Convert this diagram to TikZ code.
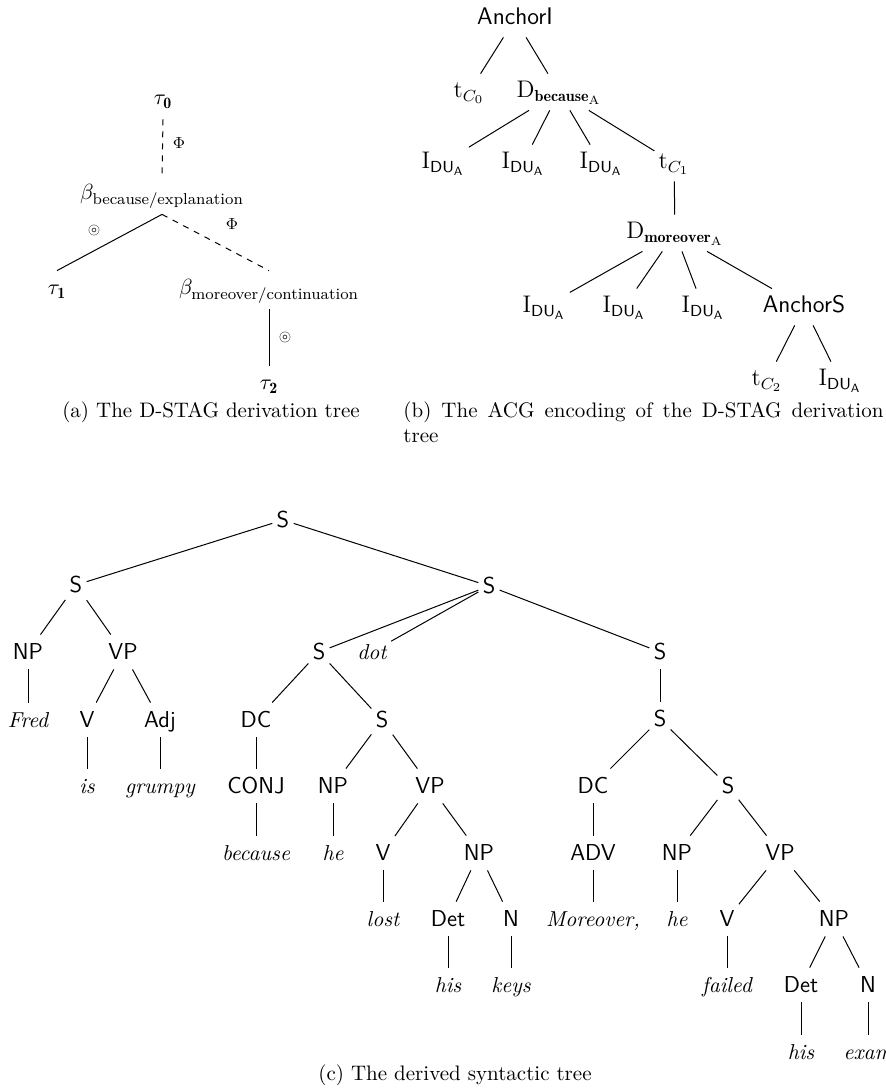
\documentclass[tikz,border=0pt]{standalone}
\usepackage{fontspec}
\usepackage{amsmath}
\usepackage{amssymb}
\usetikzlibrary{positioning}
\tikzset{
    dstagNode/.style={
        font=\fontsize{11.3}{13}\selectfont, inner sep=3pt, text height=9pt, text depth=4pt
    },
    acgNode/.style={
        font=\fontsize{12}{14}\selectfont, inner sep=2pt, text height=10pt, text depth=4pt
    },
    synNode/.style={
        font=\fontsize{11.5}{14}\selectfont\sffamily, inner sep=2pt, text height=10pt, text depth=3pt
    },
    synWord/.style={
        synNode, font=\fontsize{10.8}{13}\selectfont\rmfamily\itshape
    },
    opMark/.style={
        font=\footnotesize, inner sep=0pt
    },
    subCaption/.style={
        font=\fontsize{10.5}{12.5}\selectfont\rmfamily, inner sep=0pt
    },
    treeEdge/.style={
        line width=0.5pt, draw=black
    },
    treeDashedEdge/.style={
        treeEdge, dashed
    }
}
\begin{document}
\begin{tikzpicture}[x=0.5pt, y=-0.5pt]
    \useasboundingbox (0,0) rectangle (886,1090);

    % ── (a) D-STAG DERIVATION TREE
    \node[dstagNode] (tauZero) at (163,100) {$\tau_{\mathbf{0}}$};
    \node[dstagNode] (betaBecause) at (162,195) {$\beta_{\text{because/explanation}}$};
    \node[dstagNode] (tauOne) at (57,290) {$\tau_{\mathbf{1}}$};
    \node[dstagNode] (betaMoreover) at (269,290) {$\beta_{\text{moreover/continuation}}$};
    \node[dstagNode] (tauTwo) at (269,385) {$\tau_{\mathbf{2}}$};

    \draw[treeDashedEdge] (tauZero.south) -- (betaBecause.north);
    \draw[treeEdge] (betaBecause.south) -- (tauOne.north);
    \draw[treeDashedEdge] (betaBecause.south) -- (betaMoreover.north);
    \draw[treeEdge] (betaMoreover.south) -- (tauTwo.north);

    \node[opMark] (adjTop) at (179,143) {$\Phi$};
    \node[opMark] (substLeft) at (94,231) {$\circledcirc$};
    \node[opMark] (adjRight) at (232,224) {$\Phi$};
    \node[opMark] (substLow) at (285,338) {$\circledcirc$};

    \node[subCaption, anchor=base] (capA) at (211,417) {(a) The D-STAG derivation tree};

    % ── (b) ACG ENCODING
    \node[acgNode, font=\fontsize{12}{14}\selectfont\sffamily] (anchorI) at (515,19) {AnchorI};
    \node[acgNode] (tcZero) at (469,92) {$\mathrm{t}_{C_0}$};
    \node[acgNode] (dBecause) at (559,92) {$\mathrm{D}_{\mathbf{because}_{\mathrm{A}}}$};
    \node[acgNode] (iDuOne) at (443,163) {$\mathrm{I}_{\mathsf{DU_A}}$};
    \node[acgNode] (iDuTwo) at (523,163) {$\mathrm{I}_{\mathsf{DU_A}}$};
    \node[acgNode] (iDuThree) at (601,163) {$\mathrm{I}_{\mathsf{DU_A}}$};
    \node[acgNode] (tcOne) at (674,163) {$\mathrm{t}_{C_1}$};
    \node[acgNode] (dMoreover) at (675,233) {$\mathrm{D}_{\mathbf{moreover}_{\mathrm{A}}}$};
    \node[acgNode] (iDuFour) at (544,307) {$\mathrm{I}_{\mathsf{DU_A}}$};
    \node[acgNode] (iDuFive) at (624,307) {$\mathrm{I}_{\mathsf{DU_A}}$};
    \node[acgNode] (iDuSix) at (703,307) {$\mathrm{I}_{\mathsf{DU_A}}$};
    \node[acgNode, font=\fontsize{12}{14}\selectfont\sffamily] (anchorS) at (804,307) {AnchorS};
    \node[acgNode] (tcTwo) at (767,380) {$\mathrm{t}_{C_2}$};
    \node[acgNode] (iDuSeven) at (840,380) {$\mathrm{I}_{\mathsf{DU_A}}$};

    \draw[treeEdge] (anchorI) -- (tcZero) (anchorI) -- (dBecause);
    \draw[treeEdge] (dBecause) -- (iDuOne) (dBecause) -- (iDuTwo) (dBecause) -- (iDuThree) (dBecause) -- (tcOne);
    \draw[treeEdge] (tcOne) -- (dMoreover);
    \draw[treeEdge] (dMoreover) -- (iDuFour) (dMoreover) -- (iDuFive) (dMoreover) -- (iDuSix) (dMoreover) -- (anchorS);
    \draw[treeEdge] (anchorS) -- (tcTwo) (anchorS) -- (iDuSeven);

    \node[subCaption, text width=240pt, align=justify, anchor=north west] (capB) at (403,401)
        {(b) The ACG encoding of the D-STAG derivation\linebreak tree};

    % ── (c) DERIVED SYNTACTIC TREE
    \node[synNode] (sRoot) at (283,520) {S};
    \node[synNode] (sLeft) at (76,585) {S};
    \node[synNode] (sRight) at (489,586) {S};

    \node[synNode] (npFred) at (28,652) {NP};
    \node[synNode] (vpIs) at (123,652) {VP};
    \node[synNode] (sBecause) at (319,652) {S};
    \node[synWord] (dotWord) at (372,652) {dot};
    \node[synNode] (sMoreover) at (660,652) {S};

    \node[synWord] (fredWord) at (28,720) {Fred};
    \node[synNode] (vIs) at (87,720) {V};
    \node[synNode] (adjGrumpy) at (160,720) {Adj};
    \node[synNode] (dcBecause) at (256,720) {DC};
    \node[synNode] (sHe) at (382,720) {S};
    \node[synNode] (sInner) at (660,719) {S};

    \node[synWord] (isWord) at (87,786) {is};
    \node[synWord] (grumpyWord) at (160,786) {grumpy};
    \node[synNode] (conjBecause) at (256,786) {CONJ};
    \node[synNode] (npHe) at (333,786) {NP};
    \node[synNode] (vpLost) at (430,786) {VP};
    \node[synNode] (dcMoreover) at (593,786) {DC};
    \node[synNode] (sHeTwo) at (728,786) {S};

    \node[synWord] (becauseWord) at (256,853) {because};
    \node[synWord] (heWord) at (333,853) {he};
    \node[synNode] (vLost) at (383,853) {V};
    \node[synNode] (npKeys) at (479,853) {NP};
    \node[synNode] (advMoreover) at (593,853) {ADV};
    \node[synNode] (npHeTwo) at (677,853) {NP};
    \node[synNode] (vpFailed) at (780,853) {VP};

    \node[synWord] (lostWord) at (383,919) {lost};
    \node[synNode] (detHis) at (448,919) {Det};
    \node[synNode] (nKeys) at (511,919) {N};
    \node[synWord] (moreoverWord) at (593,919) {Moreover,};
    \node[synWord] (heTwoWord) at (677,919) {he};
    \node[synNode] (vFailed) at (727,919) {V};
    \node[synNode] (npExam) at (834,919) {NP};

    \node[synWord] (hisWord) at (448,985) {his};
    \node[synWord] (keysWord) at (511,985) {keys};
    \node[synWord] (failedWord) at (727,985) {failed};
    \node[synNode] (detHisTwo) at (801,985) {Det};
    \node[synNode] (nExam) at (868,985) {N};

    \node[synWord] (hisTwoWord) at (801,1052) {his};
    \node[synWord] (examWord) at (868,1052) {exam};

    \draw[treeEdge] (sRoot) -- (sLeft) (sRoot) -- (sRight);
    \draw[treeEdge] (sLeft) -- (npFred) (sLeft) -- (vpIs);
    \draw[treeEdge] (npFred) -- (fredWord);
    \draw[treeEdge] (vpIs) -- (vIs) (vpIs) -- (adjGrumpy);
    \draw[treeEdge] (vIs) -- (isWord);
    \draw[treeEdge] (adjGrumpy) -- (grumpyWord);
    \draw[treeEdge] (sRight) -- (sBecause) (sRight) -- (dotWord) (sRight) -- (sMoreover);
    \draw[treeEdge] (sBecause) -- (dcBecause) (sBecause) -- (sHe);
    \draw[treeEdge] (dcBecause) -- (conjBecause);
    \draw[treeEdge] (conjBecause) -- (becauseWord);
    \draw[treeEdge] (sHe) -- (npHe) (sHe) -- (vpLost);
    \draw[treeEdge] (npHe) -- (heWord);
    \draw[treeEdge] (vpLost) -- (vLost) (vpLost) -- (npKeys);
    \draw[treeEdge] (vLost) -- (lostWord);
    \draw[treeEdge] (npKeys) -- (detHis) (npKeys) -- (nKeys);
    \draw[treeEdge] (detHis) -- (hisWord);
    \draw[treeEdge] (nKeys) -- (keysWord);
    \draw[treeEdge] (sMoreover) -- (sInner);
    \draw[treeEdge] (sInner) -- (dcMoreover) (sInner) -- (sHeTwo);
    \draw[treeEdge] (dcMoreover) -- (advMoreover);
    \draw[treeEdge] (advMoreover) -- (moreoverWord);
    \draw[treeEdge] (sHeTwo) -- (npHeTwo) (sHeTwo) -- (vpFailed);
    \draw[treeEdge] (npHeTwo) -- (heTwoWord);
    \draw[treeEdge] (vpFailed) -- (vFailed) (vpFailed) -- (npExam);
    \draw[treeEdge] (vFailed) -- (failedWord);
    \draw[treeEdge] (npExam) -- (detHisTwo) (npExam) -- (nExam);
    \draw[treeEdge] (detHisTwo) -- (hisTwoWord);
    \draw[treeEdge] (nExam) -- (examWord);

    \node[subCaption, anchor=base] (capC) at (455,1080) {(c) The derived syntactic tree};
\end{tikzpicture}
\end{document}
